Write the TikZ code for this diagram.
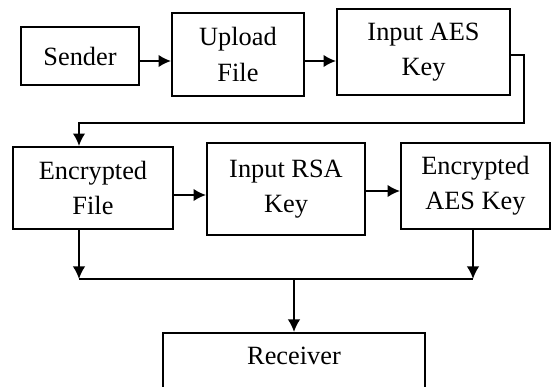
\documentclass[tikz,border=0pt]{standalone}
\usepackage{fontspec}
\setmainfont{Liberation Serif}
\usetikzlibrary{arrows.meta,positioning,calc}
\tikzset{
  stepbox/.style={
      draw,
      line width=2.2pt,
      inner sep=0pt,
      align=center,
      font=\fontsize{30}{40}\selectfont
    },
  flow/.style={
      ->,
      line width=2.2pt
    }
}

\begin{document}
\begin{tikzpicture}[>={Latex[length=5mm,width=5mm]}]
\clip (0,0) rectangle (22.04,-15.48);
% the boxes
\node[stepbox,minimum width=4.72cm,minimum height=2.32cm]
  at (3.2,-2.24) (sender) {Sender};
\node[stepbox,minimum width=5.28cm,minimum height=3.32cm]
  at (9.52,-2.18) (upload) {Upload\\File};
\node[stepbox,minimum width=6.92cm,minimum height=3.44cm]
  at (16.94,-2.08) (aeskey) {Input AES\\Key};
\node[stepbox,minimum width=6.4cm,minimum height=3.28cm]
  at (3.72,-7.52) (encfile) {Encrypted\\File};
\node[stepbox,minimum width=6.32cm,minimum height=3.68cm]
  at (11.44,-7.56) (rsakey) {Input RSA\\Key};
\node[stepbox,minimum width=5.96cm,minimum height=3.44cm]
  at (19.02,-7.44) (encaes) {Encrypted\\AES Key};
\node[stepbox,anchor=north,minimum width=10.48cm,text height=1.28cm,text depth=2cm]
  at (11.76,-13.28) (receiver) {Receiver};

% helper points
\path
  (0,-2.44) coordinate (row1)
  (0,-2.2) coordinate (aesout)
  (20.96,-4.92) coordinate (turn)
  (3.16,-4.92) coordinate (down)
  (0,-7.8) coordinate (row2a)
  (0,-7.64) coordinate (row2b)
  (3.16,-11.16) coordinate (busl)
  (18.92,-11.16) coordinate (busr);

%the arrows
\draw[flow] (sender.east |- row1) -- (upload.west |- row1);
\draw[flow] (upload.east |- row1) -- (aeskey.west |- row1);
\draw[flow]
  (aeskey.east |- aesout) -| (turn) -- (down) -- (encfile.north -| down);
\draw[flow] (encfile.east |- row2a) -- (rsakey.west |- row2a);
\draw[flow] (rsakey.east |- row2b) -- (encaes.west |- row2b);
\draw[flow] (encfile.south -| busl) -- (busl);
\draw[flow] (encaes.south -| busr) -- (busr);
\draw[line width=2.2pt] (busl) -- (busr);
\draw[flow] (receiver.north |- busl) -- (receiver.north);
\end{tikzpicture}
\end{document}
